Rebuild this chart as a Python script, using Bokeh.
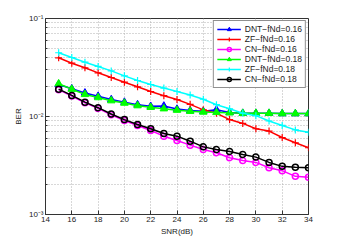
from bokeh.plotting import figure
from bokeh.models import FixedTicker, Legend
from bokeh.embed import file_html
from bokeh.resources import INLINE

snr = list(range(15, 35))
dnt_016 = [0.0212, 0.0192, 0.0174, 0.0161, 0.0149, 0.0140, 0.0132, 0.0127, 0.0128, 0.0119,
           0.0115, 0.0113, 0.0117, 0.0110, 0.0108, 0.0108, 0.0108, 0.0107, 0.0107, 0.0107]
zf_016 = [0.0397, 0.0350, 0.0314, 0.0279, 0.0250, 0.0224, 0.0201, 0.0180, 0.0163, 0.0149,
          0.0133, 0.0117, 0.0108, 0.0093, 0.0085, 0.0075, 0.0071, 0.0061, 0.0054, 0.0048]
cn_016 = [0.0188, 0.0162, 0.0138, 0.0121, 0.0104, 0.0091, 0.0081, 0.0072, 0.0063, 0.0057,
          0.0051, 0.0046, 0.00427, 0.0038, 0.00355, 0.0034, 0.0030, 0.0028, 0.00245, 0.0024]
dnt_018 = [0.0216, 0.0190, 0.0168, 0.0156, 0.0145, 0.0137, 0.0129, 0.0124, 0.0120, 0.0116,
           0.0113, 0.0111, 0.0110, 0.0109, 0.0108, 0.0108, 0.0108, 0.0107, 0.0107, 0.0107]
zf_018 = [0.0447, 0.0400, 0.0358, 0.0324, 0.0292, 0.0260, 0.0233, 0.0212, 0.0195, 0.0180,
          0.0166, 0.0150, 0.0132, 0.0120, 0.0108, 0.0102, 0.0090, 0.0081, 0.0073, 0.0069]
cn_018 = [0.0190, 0.0164, 0.0140, 0.0123, 0.0106, 0.0093, 0.0083, 0.0075, 0.0067, 0.0063,
          0.0056, 0.0049, 0.0046, 0.0044, 0.0041, 0.00385, 0.0034, 0.0031, 0.00304, 0.0030]

x_ticks = [14, 16, 18, 20, 22, 24, 26, 28, 30, 32, 34]
y_ticks = [1e-3, 1e-2, 1e-1]
y_tick_labels = {1e-3: "10\u207b\u00b3", 1e-2: "10\u207b\u00b2", 1e-1: "10\u207b\u00b9"}

series = [
    ("DNT\u2212fNd=0.16", dnt_016, "#0000ff", "triangle", True),
    ("ZF\u2212fNd=0.16", zf_016, "#ff0000", "cross", False),
    ("CN\u2212fNd=0.16", cn_016, "#ff00ff", "circle", False),
    ("DNT\u2212fNd=0.18", dnt_018, "#00ff00", "triangle", True),
    ("ZF\u2212fNd=0.18", zf_018, "#00ffff", "cross", False),
    ("CN\u2212fNd=0.18", cn_018, "#000000", "circle", False),
]

FONT = "Liberation Sans"

p = figure(width=341, height=242, output_backend="svg", toolbar_location=None,
           x_range=(14, 34), y_range=(1e-3, 1e-1), y_axis_type="log",
           min_border_left=45, min_border_right=33, min_border_top=18, min_border_bottom=28)
p.background_fill_color = "white"
p.border_fill_color = "white"
p.outline_line_color = "#333333"
p.outline_line_width = 1

p.xaxis.ticker = FixedTicker(ticks=x_ticks)
minor = [m * d for d in [1e-3, 1e-2] for m in range(2, 10)]
p.yaxis.ticker = FixedTicker(ticks=y_ticks, minor_ticks=minor)
p.yaxis.major_label_overrides = y_tick_labels

for ax in (p.xaxis, p.yaxis):
    ax.axis_line_color = "#333333"
    ax.major_tick_in = 4
    ax.major_tick_out = 0
    ax.major_tick_line_color = "#333333"
    ax.major_label_text_font = FONT
    ax.major_label_text_font_size = "8px"
    ax.major_label_text_color = "#222222"
    ax.axis_label_text_font = FONT
    ax.axis_label_text_font_size = "8px"
    ax.axis_label_text_font_style = "normal"
    ax.axis_label_text_color = "#222222"
    ax.major_label_standoff = 2
p.xaxis.minor_tick_line_color = None
p.yaxis.minor_tick_in = 2
p.yaxis.minor_tick_out = 0
p.yaxis.minor_tick_line_color = "#333333"
p.xaxis.axis_label = "SNR(dB)"
p.yaxis.axis_label = "BER"
p.xaxis.axis_label_standoff = 2
p.yaxis.axis_label_standoff = 3

p.xgrid.grid_line_color = "#b0b0b0"
p.xgrid.grid_line_dash = "1 2"
p.ygrid.grid_line_color = "#b0b0b0"
p.ygrid.grid_line_dash = "1 2"
p.ygrid.minor_grid_line_color = "#b0b0b0"
p.ygrid.minor_grid_line_dash = "1 2"

items = []
for label, ys, color, marker, filled in series:
    r1 = p.line(snr, ys, line_color=color, line_width=1.5)
    if filled:
        r2 = p.scatter(snr, ys, marker=marker, size=7.5, line_color=color,
                       fill_color=color, line_width=1)
    elif marker == "circle":
        r2 = p.scatter(snr, ys, marker=marker, size=6, line_color=color,
                       fill_color=None, line_width=1.5)
    else:
        r2 = p.scatter(snr, ys, marker=marker, size=7, line_color=color,
                       line_width=1.2)
    items.append((label, [r1, r2]))

legend = Legend(items=items, location="top_right")
legend.margin = 2
legend.padding = 3
legend.spacing = 0
legend.glyph_height = 10
legend.label_height = 10
legend.glyph_width = 24
legend.label_standoff = 4
legend.label_text_font = FONT
legend.label_text_font_size = "8.5px"
legend.label_text_color = "#222222"
legend.border_line_color = "#222222"
legend.border_line_width = 1
legend.background_fill_color = "white"
legend.background_fill_alpha = 1
p.add_layout(legend, "center")

open("out.html", "w").write(file_html(p, INLINE))
